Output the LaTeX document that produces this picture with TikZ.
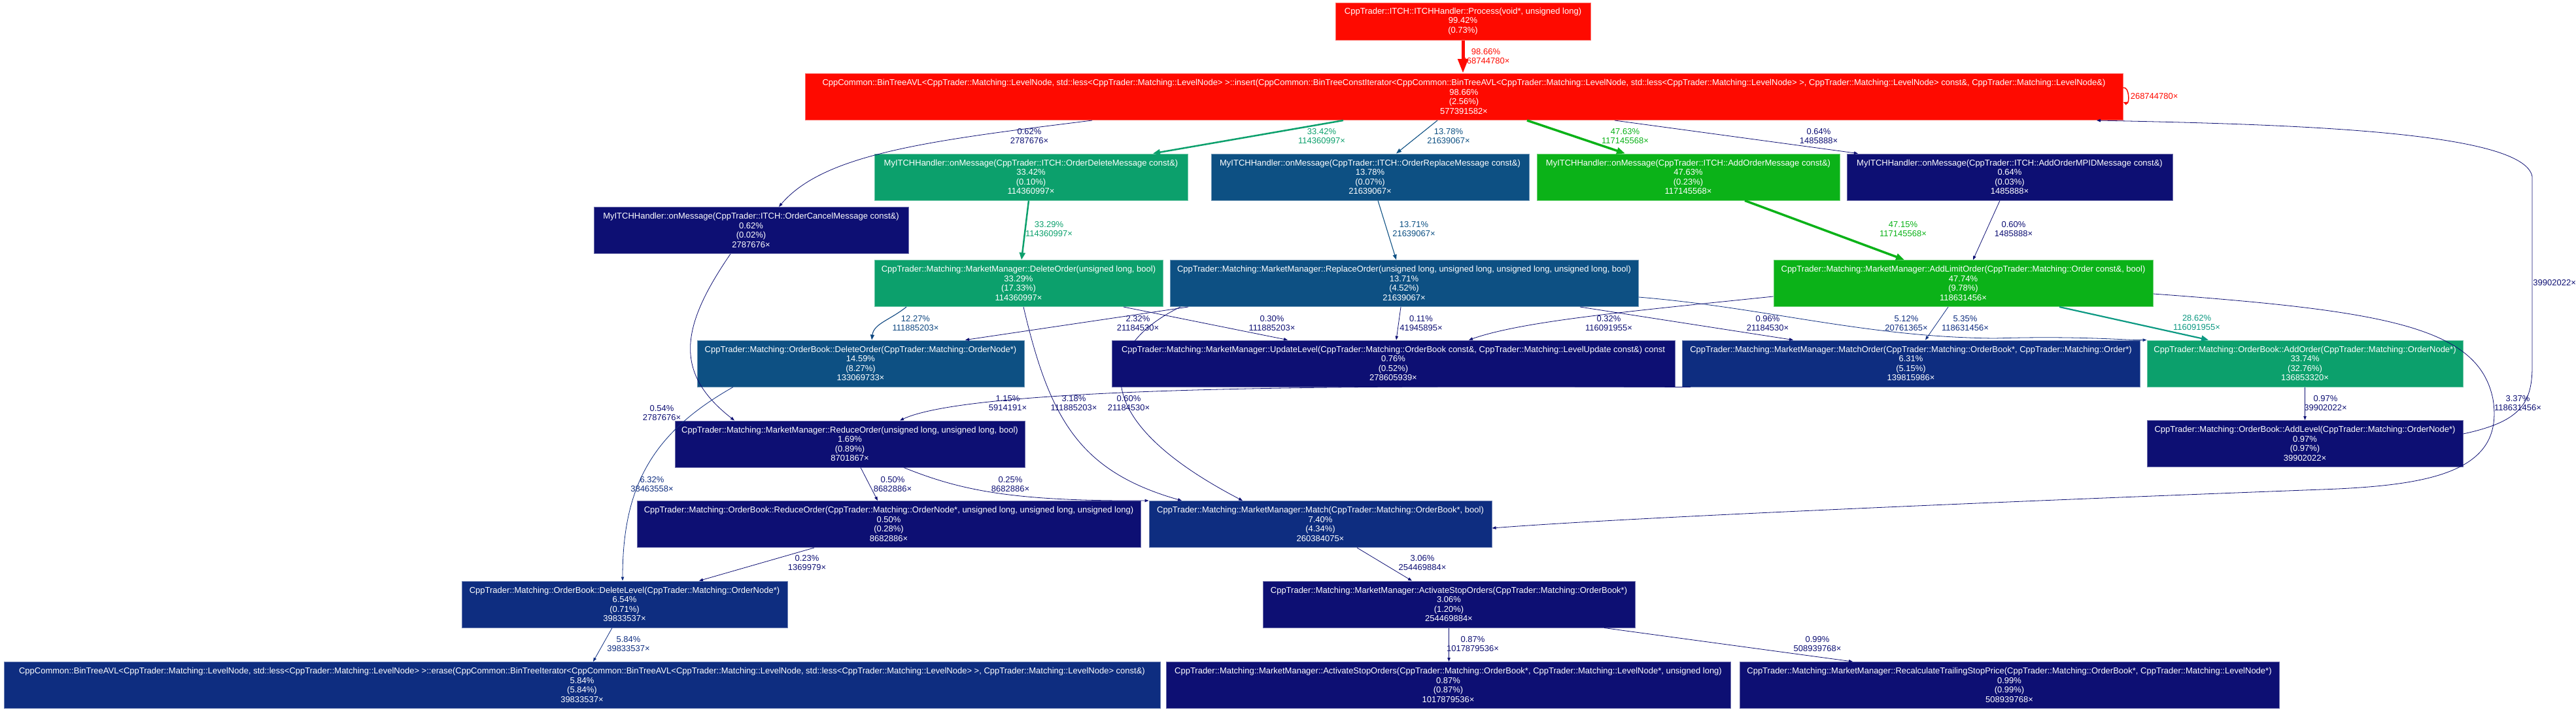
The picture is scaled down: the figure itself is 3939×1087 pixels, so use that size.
\documentclass[tikz,border=0pt]{standalone}
\usepackage{fontspec}
\setmainfont{Liberation Sans}
\usetikzlibrary{arrows.meta}
\definecolor{cred}{RGB}{254,10,0}
\definecolor{cgreen}{RGB}{11,178,24}
\definecolor{cteal}{RGB}{12,160,108}
\definecolor{cteala}{RGB}{12,153,130}
\definecolor{csteel}{RGB}{13,80,131}
\definecolor{csteela}{RGB}{13,70,128}
\definecolor{cblue}{RGB}{14,45,128}
\definecolor{cnavy}{RGB}{13,15,115}
\begin{document}
\begin{tikzpicture}[x=1pt, y=-1pt,
  fn/.style={draw, line width=1pt, text=white, align=center, inner sep=0pt, minimum height=71pt, font=\fontsize{13}{14.5}\selectfont},
  fred/.style={fill=cred, draw=cred!60!white},
  fgreen/.style={fill=cgreen, draw=cgreen!60!white},
  fteal/.style={fill=cteal, draw=cteal!60!white},
  fsteel/.style={fill=csteel, draw=csteel!60!white},
  fblue/.style={fill=cblue, draw=cblue!60!white},
  fnavy/.style={fill=cnavy, draw=cnavy!60!white},
  el/.style={align=center, inner sep=0pt, font=\fontsize{13}{14.5}\selectfont},
  ethin/.style={line width=0.8pt, -{Triangle[length=6pt,width=4.5pt]}},
  emid/.style={line width=1.1pt, -{Triangle[length=8pt,width=6pt]}},
  ewide/.style={line width=2.5pt, -{Triangle[length=11pt,width=9pt]}},
  ebig/.style={line width=3.5pt, -{Triangle[length=13pt,width=10pt]}},
  ehuge/.style={line width=5pt, -{Triangle[length=22pt,width=15pt]}}]
\useasboundingbox (0,0) rectangle (3939,1087);

% functions
\node[fn, fred, minimum width=390pt, minimum height=57pt] (proc) at (2237,32.5) {CppTrader::ITCH::ITCHHandler::Process(void*, unsigned long)\\99.42\%\\(0.73\%)};
\node[fn, fred, minimum width=2015pt] (ins) at (2238.5,148) {CppCommon::BinTreeAVL<CppTrader::Matching::LevelNode, std::less<CppTrader::Matching::LevelNode> >::insert(CppCommon::BinTreeConstIterator<CppCommon::BinTreeAVL<CppTrader::Matching::LevelNode, std::less<CppTrader::Matching::LevelNode> >, CppTrader::Matching::LevelNode> const\&, CppTrader::Matching::LevelNode\&)\\98.66\%\\(2.56\%)\\577391582×};
\node[fn, fteal, minimum width=479pt] (delmsg) at (1576.5,270.5) {MyITCHHandler::onMessage(CppTrader::ITCH::OrderDeleteMessage const\&)\\33.42\%\\(0.10\%)\\114360997×};
\node[fn, fsteel, minimum width=486pt] (repmsg) at (2095,270.5) {MyITCHHandler::onMessage(CppTrader::ITCH::OrderReplaceMessage const\&)\\13.78\%\\(0.07\%)\\21639067×};
\node[fn, fgreen, minimum width=463pt] (addmsg) at (2581.5,270.5) {MyITCHHandler::onMessage(CppTrader::ITCH::AddOrderMessage const\&)\\47.63\%\\(0.23\%)\\117145568×};
\node[fn, fnavy, minimum width=498pt] (mpidmsg) at (3073,270.5) {MyITCHHandler::onMessage(CppTrader::ITCH::AddOrderMPIDMessage const\&)\\0.64\%\\(0.03\%)\\1485888×};
\node[fn, fnavy, minimum width=481pt] (canmsg) at (1148.5,352) {MyITCHHandler::onMessage(CppTrader::ITCH::OrderCancelMessage const\&)\\0.62\%\\(0.02\%)\\2787676×};
\node[fn, fteal, minimum width=441pt] (mmdel) at (1557.5,433) {CppTrader::Matching::MarketManager::DeleteOrder(unsigned long, bool)\\33.29\%\\(17.33\%)\\114360997×};
\node[fn, fsteel, minimum width=716pt] (mmrep) at (2147,433) {CppTrader::Matching::MarketManager::ReplaceOrder(unsigned long, unsigned long, unsigned long, unsigned long, bool)\\13.71\%\\(4.52\%)\\21639067×};
\node[fn, fgreen, minimum width=580pt] (addlim) at (3002,433) {CppTrader::Matching::MarketManager::AddLimitOrder(CppTrader::Matching::Order const\&, bool)\\47.74\%\\(9.78\%)\\118631456×};
\node[fn, fsteel, minimum width=500pt] (obdel) at (1316,555.5) {CppTrader::Matching::OrderBook::DeleteOrder(CppTrader::Matching::OrderNode*)\\14.59\%\\(8.27\%)\\133069733×};
\node[fn, fnavy, minimum width=861pt] (updlvl) at (2130.5,555.5) {CppTrader::Matching::MarketManager::UpdateLevel(CppTrader::Matching::OrderBook const\&, CppTrader::Matching::LevelUpdate const\&) const\\0.76\%\\(0.52\%)\\278605939×};
\node[fn, fblue, minimum width=700pt] (matchord) at (2922,555.5) {CppTrader::Matching::MarketManager::MatchOrder(CppTrader::Matching::OrderBook*, CppTrader::Matching::Order*)\\6.31\%\\(5.15\%)\\139815986×};
\node[fn, fteal, minimum width=483pt] (obadd) at (3524.5,555.5) {CppTrader::Matching::OrderBook::AddOrder(CppTrader::Matching::OrderNode*)\\33.74\%\\(32.76\%)\\136853320×};
\node[fn, fnavy, minimum width=535pt] (mmred) at (1299.5,678.5) {CppTrader::Matching::MarketManager::ReduceOrder(unsigned long, unsigned long, bool)\\1.69\%\\(0.89\%)\\8701867×};
\node[fn, fnavy, minimum width=483pt] (addlvl) at (3524.5,678) {CppTrader::Matching::OrderBook::AddLevel(CppTrader::Matching::OrderNode*)\\0.97\%\\(0.97\%)\\39902022×};
\node[fn, fnavy, minimum width=770pt] (obred) at (1359,801) {CppTrader::Matching::OrderBook::ReduceOrder(CppTrader::Matching::OrderNode*, unsigned long, unsigned long, unsigned long)\\0.50\%\\(0.28\%)\\8682886×};
\node[fn, fblue, minimum width=524pt] (match) at (2019,801) {CppTrader::Matching::MarketManager::Match(CppTrader::Matching::OrderBook*, bool)\\7.40\%\\(4.34\%)\\260384075×};
\node[fn, fblue, minimum width=498pt] (dellvl) at (955,923.5) {CppTrader::Matching::OrderBook::DeleteLevel(CppTrader::Matching::OrderNode*)\\6.54\%\\(0.71\%)\\39833537×};
\node[fn, fnavy, minimum width=569pt] (actstop) at (2215.5,923.5) {CppTrader::Matching::MarketManager::ActivateStopOrders(CppTrader::Matching::OrderBook*)\\3.06\%\\(1.20\%)\\254469884×};
\node[fn, fblue, minimum width=1768pt] (erase) at (890,1047) {CppCommon::BinTreeAVL<CppTrader::Matching::LevelNode, std::less<CppTrader::Matching::LevelNode> >::erase(CppCommon::BinTreeIterator<CppCommon::BinTreeAVL<CppTrader::Matching::LevelNode, std::less<CppTrader::Matching::LevelNode> >, CppTrader::Matching::LevelNode> const\&)\\5.84\%\\(5.84\%)\\39833537×};
\node[fn, fnavy, minimum width=863pt] (actstopl) at (2214.5,1047) {CppTrader::Matching::MarketManager::ActivateStopOrders(CppTrader::Matching::OrderBook*, CppTrader::Matching::LevelNode*, unsigned long)\\0.87\%\\(0.87\%)\\1017879536×};
\node[fn, fnavy, minimum width=825pt] (recalc) at (3072.5,1047) {CppTrader::Matching::MarketManager::RecalculateTrailingStopPrice(CppTrader::Matching::OrderBook*, CppTrader::Matching::LevelNode*)\\0.99\%\\(0.99\%)\\508939768×};

% calls
\draw[ehuge, cred] (proc.south) -- (proc.south |- ins.north) node[el, text=cred, at={(2272,86)}] {98.66\%\\268744780×};
\draw[cred, line width=1.5pt, -{Triangle[length=6pt,width=5pt]}] ([yshift=14pt]ins.east) .. controls +(10,-2) and +(10,4) .. ([yshift=-8pt]ins.east) node[el, text=cred, anchor=west, at={(3257,147)}] {268744780×};
\draw[ethin, cnavy] ([xshift=-568.5pt]ins.south) .. controls (1420,215) and (1260,235) .. ([xshift=42.5pt]canmsg.north) node[el, text=cnavy, at={(1574,208)}] {0.62\%\\2787676×};
\draw[ewide, cteal] ([xshift=-184.5pt]ins.south) -- ([xshift=186.5pt]delmsg.north) node[el, text=cteal, at={(2021,208)}] {33.42\%\\114360997×};
\draw[emid, csteel] ([xshift=-40.5pt]ins.south) -- ([xshift=40pt]repmsg.north) node[el, text=csteel, at={(2215,208)}] {13.78\%\\21639067×};
\draw[ebig, cgreen] ([xshift=96.5pt]ins.south) -- ([xshift=-96.5pt]addmsg.north) node[el, text=cgreen, at={(2485,208)}] {47.63\%\\117145568×};
\draw[ethin, cnavy] ([xshift=230.5pt]ins.south) -- ([xshift=-232pt]mpidmsg.north) node[el, text=cnavy, at={(2781,208)}] {0.64\%\\1485888×};
\draw[ethin, cnavy] ([xshift=-31.5pt]canmsg.south) .. controls (1040,500) and (1030,570) .. ([xshift=-176.5pt]mmred.north) node[el, text=cnavy, at={(1012,631)}] {0.54\%\\2787676×};
\draw[ewide, cteal] ([xshift=-3.5pt]delmsg.south) -- ([xshift=4.5pt]mmdel.north) node[el, text=cteal, at={(1604,350)}] {33.29\%\\114360997×};
\draw[emid, csteel] ([xshift=12pt]repmsg.south) -- ([xshift=-12pt]mmrep.north) node[el, text=csteel, at={(2162,350)}] {13.71\%\\21639067×};
\draw[ebig, cgreen] ([xshift=86.5pt]addmsg.south) -- ([xshift=-90pt]addlim.north) node[el, text=cgreen, at={(2910,350)}] {47.15\%\\117145568×};
\draw[ethin, cnavy] ([xshift=-15pt]mpidmsg.south) -- ([xshift=15pt]addlim.north) node[el, text=cnavy, at={(3079,350)}] {0.60\%\\1485888×};
\draw[emid, csteela] ([xshift=-171.5pt]mmdel.south) .. controls +(-25,20) and +(3,-25) .. ([xshift=17pt]obdel.north) node[el, text=csteela, at={(1400,494)}] {12.27\%\\111885203×};
\draw[ethin, cnavy] ([xshift=160.5pt]mmdel.south) -- ([xshift=-161.5pt]updlvl.north) node[el, text=cnavy, at={(1945,494)}] {0.30\%\\111885203×};
\draw[ethin, cnavy] ([xshift=7.5pt]mmdel.south) .. controls (1605,640) and (1650,720) .. ([xshift=-212pt]match.north) node[el, text=cnavy, at={(1642,616)}] {3.18\%\\111885203×};
\draw[ethin, cnavy] ([xshift=-330pt]mmrep.south) -- ([xshift=160pt]obdel.north) node[el, text=cnavy, at={(1740,494)}] {2.32\%\\21184530×};
\draw[ethin, cnavy] ([xshift=-5pt]mmrep.south) -- ([xshift=4.5pt]updlvl.north) node[el, text=cnavy, at={(2173,494)}] {0.11\%\\41945895×};
\draw[ethin, cnavy] ([xshift=-342pt]mmrep.south) .. controls (1680,530) and (1660,640) .. ([xshift=-119pt]match.north) node[el, text=cnavy, at={(1726,616)}] {0.60\%\\21184530×};
\draw[ethin, cnavy] ([xshift=269pt]mmrep.south) -- ([xshift=-180pt]matchord.north) node[el, text=cnavy, at={(2703,494)}] {0.96\%\\21184530×};
\draw[ethin, cblue] ([yshift=-21pt]mmrep.east) .. controls (2700,470) and (2850,515) .. (3050,517) .. controls (3180,513) and (3250,520) .. (obadd.north west) node[el, text=cblue, at={(2915,494)}] {5.12\%\\20761365×};
\draw[ethin, cnavy] ([yshift=-20pt]addlim.west) .. controls (2500,475) and (2330,490) .. ([xshift=115.5pt]updlvl.north) node[el, text=cnavy, at={(2460,494)}] {0.32\%\\116091955×};
\draw[ethin, cblue] ([xshift=-23pt]addlim.south) -- ([xshift=22pt]matchord.north) node[el, text=cblue, at={(3005,494)}] {5.35\%\\118631456×};
\draw[ewide, cteala, line width=2.2pt] ([xshift=147pt]addlim.south) -- ([xshift=-147.5pt]obadd.north) node[el, text=cteala, at={(3359,493)}] {28.62\%\\116091955×};
\draw[ethin, cnavy] ([yshift=-16pt]addlim.east) .. controls (3650,475) and (3790,500) .. (3812,610) .. controls (3830,720) and (3720,742) .. (3550,748) .. controls (3100,765) and (2500,790) .. ([yshift=-6pt]match.east) node[el, text=cnavy, at={(3850,616)}] {3.37\%\\118631456×};
\draw[ethin, cnavy] ([xshift=56pt]match.south) -- ([xshift=-56.5pt]actstop.north) node[el, text=cnavy, at={(2175,860)}] {3.06\%\\254469884×};
\draw[ethin, cnavy] ([xshift=-337pt]matchord.south) .. controls (2200,590) and (1500,585) .. ([xshift=76.5pt]mmred.north) node[el, text=cnavy, at={(1541,616)}] {1.15\%\\5914191×};
\draw[ethin, cnavy] ([xshift=16.5pt]mmred.south) -- ([xshift=-17pt]obred.north) node[el, text=cnavy, at={(1365,740)}] {0.50\%\\8682886×};
\draw[ethin, cnavy] ([xshift=82.5pt]mmred.south) .. controls (1470,750) and (1550,766) .. (match.north west) node[el, text=cnavy, at={(1545,740)}] {0.25\%\\8682886×};
\draw[ethin, cblue] ([xshift=-195pt]obdel.south) .. controls (1000,660) and (952,740) .. ([xshift=-3pt]dellvl.north) node[el, text=cblue, at={(997,740)}] {6.32\%\\38463558×};
\draw[ethin, cnavy] ([xshift=-114pt]obred.south) -- ([xshift=114pt]dellvl.north) node[el, text=cnavy, at={(1234,860)}] {0.23\%\\1369979×};
\draw[ethin, cblue] ([xshift=-19pt]dellvl.south) -- ([xshift=17pt]erase.north) node[el, text=cblue, at={(961,984)}] {5.84\%\\39833537×};
\draw[ethin, cnavy] (actstop.south) -- (actstop.south |- actstopl.north) node[el, text=cnavy, at={(2252,984)}] {0.87\%\\1017879536×};
\draw[ethin, cnavy] ([xshift=237.5pt]actstop.south) -- ([xshift=-239.5pt]recalc.north) node[el, text=cnavy, at={(2779,984)}] {0.99\%\\508939768×};
\draw[ethin, cnavy] (obadd.south) -- (addlvl.north) node[el, text=cnavy, at={(3556,616)}] {0.97\%\\39902022×};
\draw[ethin, cnavy] ([yshift=15pt]addlvl.east) .. controls (3850,645) and (3872,620) .. (3872,560) -- (3872,270) .. controls (3860,200) and (3500,190) .. ([xshift=967.5pt]ins.south) node[el, text=cnavy, anchor=west, at={(3873,432)}] {39902022×};
\end{tikzpicture}
\end{document}
